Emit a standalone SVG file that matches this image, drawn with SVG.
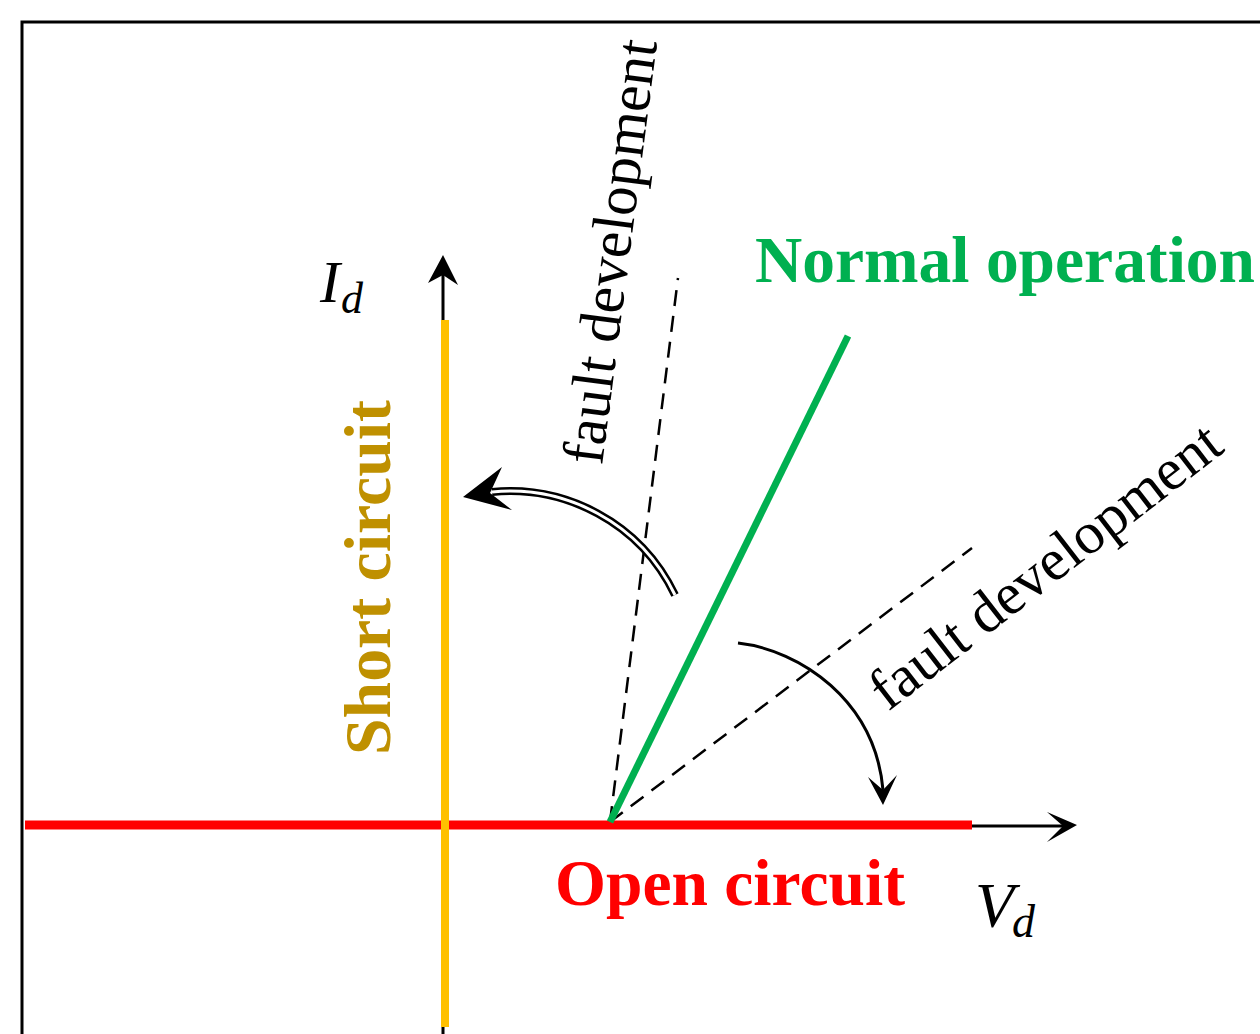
<svg xmlns="http://www.w3.org/2000/svg" width="1260" height="1034" viewBox="0 0 1260 1034">
<style>
.lbl{font-family:"Liberation Serif","Times New Roman",serif;}
.big{font-weight:bold;font-size:65px;}
.fault{font-size:59px;fill:#000;}
.math{font-style:italic;fill:#000;}
.ax{stroke:#000;stroke-width:3;fill:none;}
.dash{stroke:#000;stroke-width:2.5;stroke-dasharray:16 10;fill:none;}
</style>
<rect x="0" y="0" width="1260" height="1034" fill="#fff"/>
<g id="frame"><path d="M22,1034 V22 H1260" fill="none" stroke="#000" stroke-width="3"/></g>
<g id="connectors">
  <line class="ax" x1="443" y1="1034" x2="443" y2="275"/>
  <polygon points="443,255 458,285 443,275 428,283" fill="#000"/>
  <line class="ax" x1="37" y1="826" x2="1063" y2="826"/>
  <polygon points="1077,825 1047,842 1063,826 1047,812" fill="#000"/>
  <line class="dash" x1="610" y1="822" x2="678" y2="278"/>
  <line class="dash" x1="610" y1="822" x2="972" y2="548"/>
  <path d="M675,595 C640,522 565,485 492,492" fill="none" stroke="#000" stroke-width="8"/>
  <path d="M675,595 C640,522 565,485 492,492" fill="none" stroke="#fff" stroke-width="3"/>
  <polygon points="463,497 502,467 490,493 512,510" fill="#000"/>
  <path d="M738,643 C800,650 875,700 883,790" fill="none" stroke="#000" stroke-width="3"/>
  <polygon points="883,805 868,777 883,790 897,775" fill="#000"/>
</g>
<g id="open-circuit">
  <line x1="25" y1="825" x2="972" y2="825" stroke="#ff0000" stroke-width="9"/>
  <text class="lbl big" x="555" y="905" fill="#ff0000" textLength="350" lengthAdjust="spacingAndGlyphs">Open circuit</text>
</g>
<g id="short-circuit">
  <line x1="445" y1="320" x2="445" y2="1027" stroke="#ffc000" stroke-width="8"/>
  <text class="lbl big" transform="translate(390,755) rotate(-90)" fill="#bf9000" textLength="355" lengthAdjust="spacingAndGlyphs">Short circuit</text>
</g>
<g id="normal-operation">
  <line x1="610" y1="822" x2="848" y2="336" stroke="#00b050" stroke-width="7"/>
  <text class="lbl big" x="755" y="282" fill="#00b050" textLength="500" lengthAdjust="spacingAndGlyphs">Normal operation</text>
</g>
<g id="fault-1">
  <text class="lbl fault" transform="translate(602,466) rotate(-82.6)">fault development</text>
</g>
<g id="fault-2">
  <text class="lbl fault" transform="translate(888,712) rotate(-37.7)">fault development</text>
</g>
<g id="id-label">
  <text class="lbl math" x="320" y="302" font-size="60">I</text>
  <text class="lbl math" x="341" y="313" font-size="44">d</text>
</g>
<g id="vd-label">
  <text class="lbl math" x="975" y="927" font-size="64">V</text>
  <text class="lbl math" x="1012" y="937" font-size="46">d</text>
</g>
</svg>
